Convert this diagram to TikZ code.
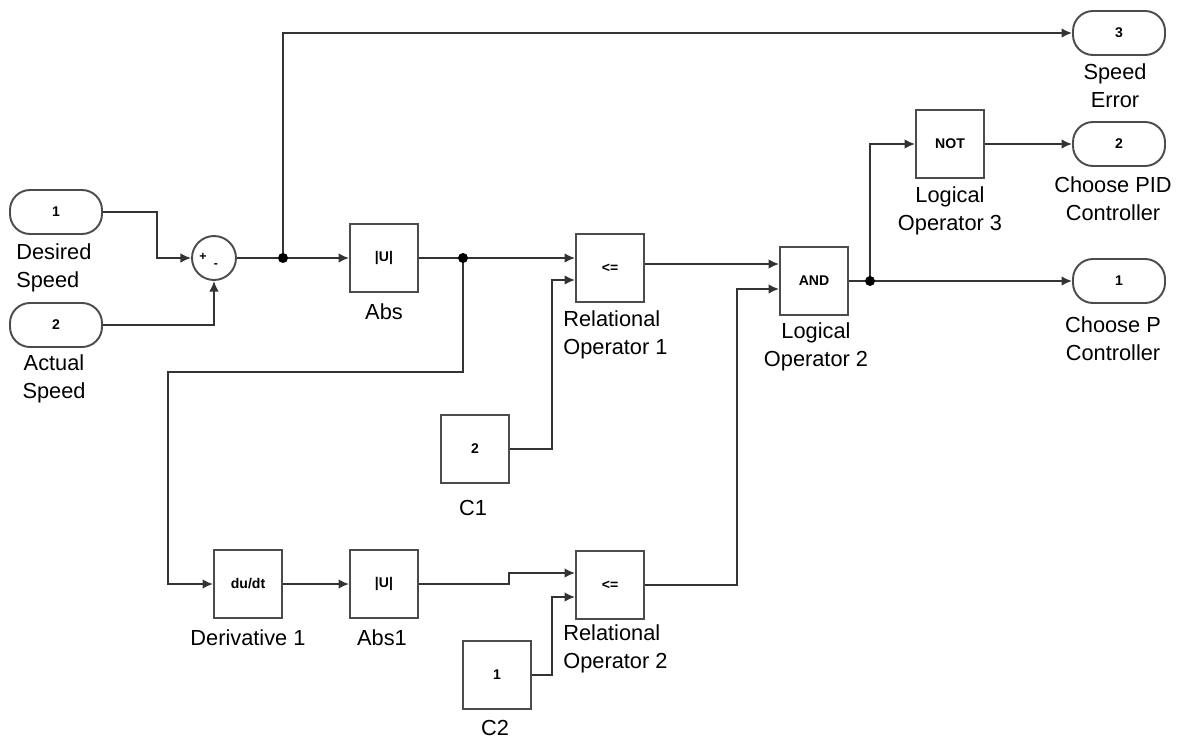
\documentclass[tikz,border=0pt]{standalone}
\usepackage{fontspec}
\setmainfont{Liberation Sans}
\usetikzlibrary{positioning}
\usetikzlibrary{calc}
\usetikzlibrary{arrows.meta}
\tikzset{blk/.style={draw=black!70,line width=1.1pt,minimum width=1.36cm,minimum height=1.36cm,inner sep=0pt,font=\fontsize{8}{9}\selectfont\bfseries},
port/.style={draw=black!70,line width=1.1pt,rounded corners=0.4cm,minimum width=1.84cm,minimum height=0.88cm,inner sep=0pt,font=\fontsize{8}{9}\selectfont\bfseries},
lbl/.style={align=center,font=\fontsize{12.4}{15.9}\selectfont,inner sep=0pt},
sig/.style={draw=black!80,line width=1.1pt,-{Latex[length=6pt,width=5.5pt]}},
wire/.style={draw=black!80,line width=1.1pt},
dot/.style={circle,fill=black,inner sep=0pt,minimum size=0.2cm}}

\begin{document}
\begin{tikzpicture}[x=0.02cm,y=-0.02cm]
\useasboundingbox (0,0) rectangle (1186,740);

% blocks
\node (in1) at (56,212) [port] {1};
\node (in2) at (56,325) [port] {2};
\node (sum) at (214,258) [circle,draw=black!70,line width=1.1pt,minimum size=0.88cm,inner sep=0pt] {};
\node (plus) at (203,257) [inner sep=0pt,font=\fontsize{7}{7}\selectfont\bfseries] {+};
\node (minus) at (216,266) [inner sep=0pt,font=\fontsize{7}{7}\selectfont\bfseries] {-};
\node (abs) at (384,258) [blk] {|U|};
\node (rel1) at (610,268) [blk] {<=};
\node (c1) at (475,449) [blk] {2};
\node (der) at (248,584) [blk] {du/dt};
\node (abs1) at (384,584) [blk] {|U|};
\node (rel2) at (610,585) [blk] {<=};
\node (c2) at (497,675) [blk] {1};
\node (and) at (814,281) [blk] {AND};
\node (not) at (950,144) [blk] {NOT};
\node (out3) at (1119,33) [port] {3};
\node (out2) at (1119,144) [port] {2};
\node (out1) at (1119,281) [port] {1};

% branch points
\coordinate (jsum) at (283,258);
\coordinate (jab) at (463,258);
\coordinate (jand) at (870,281);
\coordinate (r1b) at ($(rel1.west)+(0,12)$);
\coordinate (r2a) at ($(rel2.west)+(0,-12)$);
\coordinate (r2b) at ($(rel2.west)+(0,12)$);
\coordinate (anda) at ($(and.west)+(0,-17)$);
\coordinate (andb) at ($(and.west)+(0,8)$);

% labels
\node (lin1) at (16,268) [lbl,anchor=west,align=left] {Desired\\Speed};
\node (lin2) at (54,379) [lbl] {Actual\\Speed};
\node (labs) at (384,312) [lbl] {Abs};
\node (lrel1) at (563,335) [lbl,anchor=west,align=left] {Relational\\Operator 1};
\node (lc1) at (473,508) [lbl] {C1};
\node (lder) at (248,638) [lbl] {Derivative 1};
\node (labs1) at (382,638) [lbl] {Abs1};
\node (lrel2) at (563,649) [lbl,anchor=west,align=left] {Relational\\Operator 2};
\node (lc2) at (495,728) [lbl] {C2};
\node (land) at (816,347) [lbl] {Logical\\Operator 2};
\node (lnot) at (950,211) [lbl] {Logical\\Operator 3};
\node (lout3) at (1115,86) [lbl] {Speed\\Error};
\node (lout2) at (1113,199) [lbl] {Choose PID\\Controller};
\node (lout1) at (1113,339) [lbl] {Choose P\\Controller};

% signals
\draw[sig] (in1.east) -| ($(sum.west)+(-34,0)$) -- (sum.west);
\draw[sig] (in2.east) -| (sum.south);
\draw[wire] (sum.east) -- (jsum);
\draw[sig] (jsum) |- (out3.west);
\draw[sig] (jsum) -- (abs.west);
\draw[wire] (abs.east) -- (jab);
\draw[sig] (jab) -- (jab -| rel1.west);
\draw[sig] (jab) -- ++(0,114) -| ($(der.west)+(-45,0)$) -- (der.west);
\draw[sig] (c1.east) -| ($(r1b)+(-23,0)$) -- (r1b);
\draw[sig] (der.east) -- (abs1.west);
\draw[sig] (abs1.east) -- ++(90,0) |- (r2a);
\draw[sig] (c2.east) -| ($(r2b)+(-23,0)$) -- (r2b);
\draw[sig] (rel1.east |- anda) -- (anda);
\draw[sig] (rel2.east) -- ++(92,0) |- (andb);
\draw[wire] (and.east) -- (jand);
\draw[sig] (jand) -- (out1.west);
\draw[sig] (jand) |- (not.west);
\draw[sig] (not.east) -- (out2.west);

\node (djsum) at (jsum) [dot] {};
\node (djab) at (jab) [dot] {};
\node (djand) at (jand) [dot] {};
\end{tikzpicture}
\end{document}
